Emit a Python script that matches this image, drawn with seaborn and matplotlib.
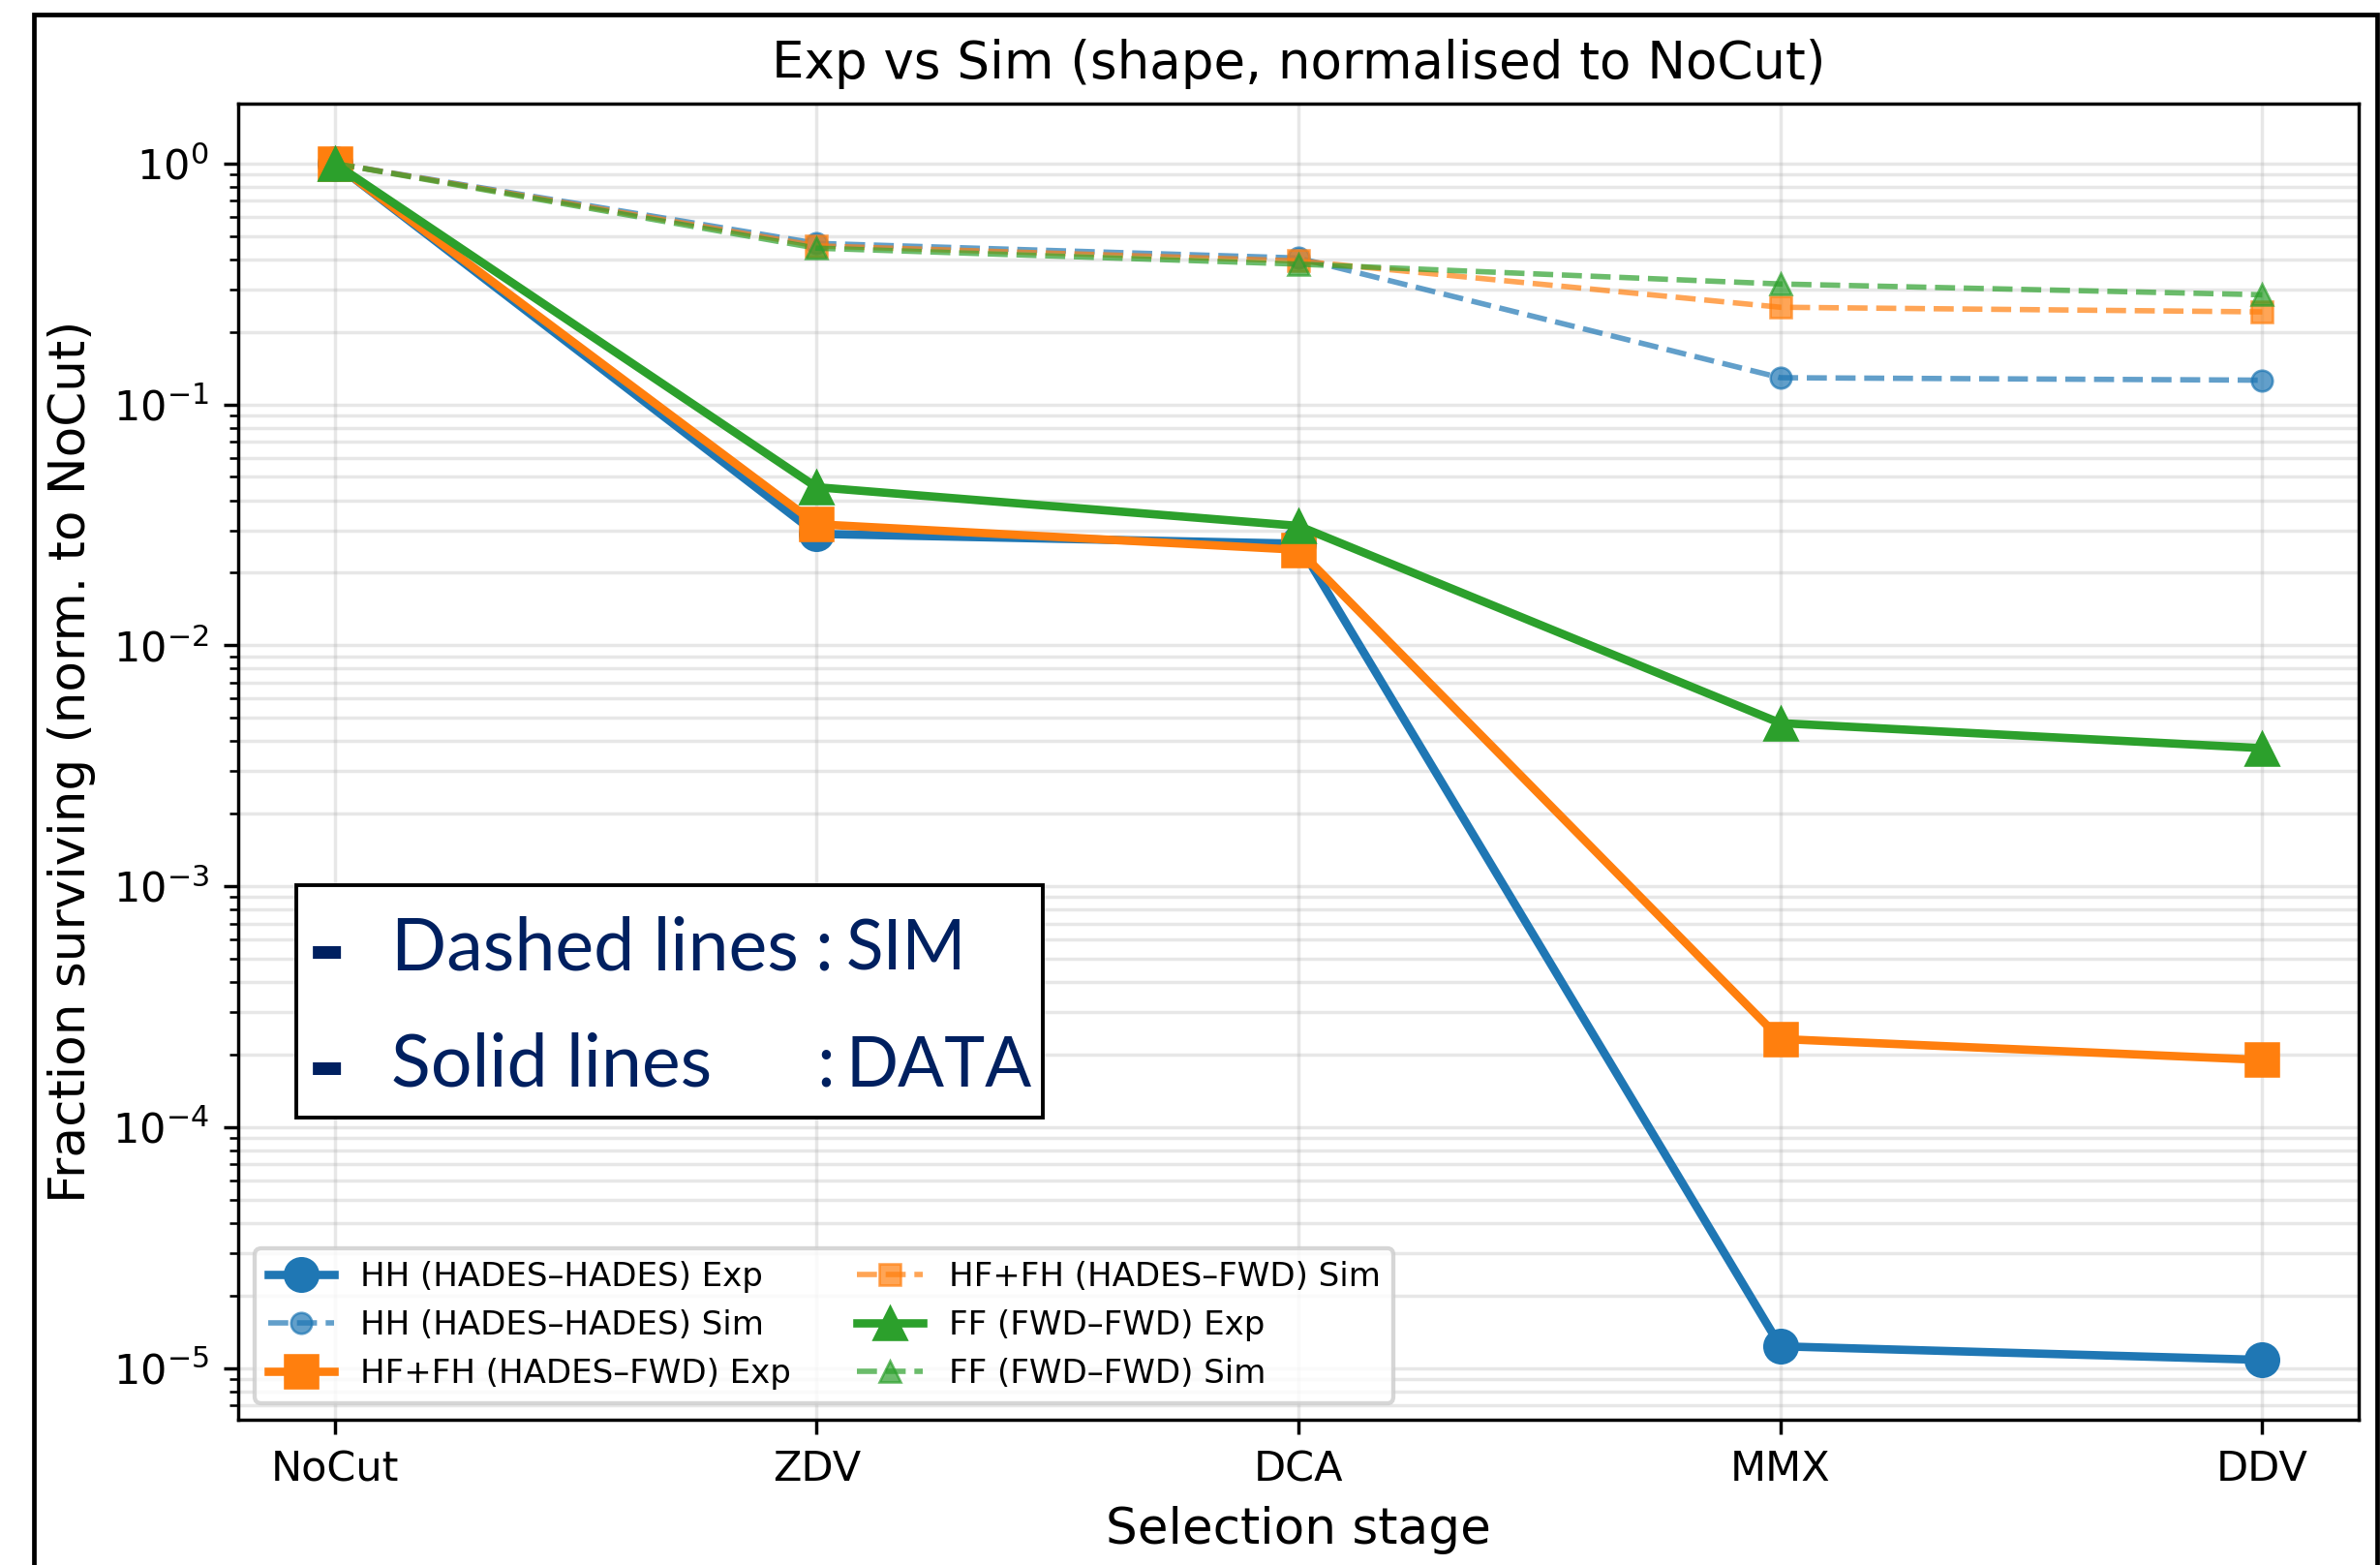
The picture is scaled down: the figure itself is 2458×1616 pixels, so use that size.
import matplotlib
matplotlib.use("Agg")
import matplotlib.pyplot as plt
from matplotlib.patches import Rectangle
import seaborn as sns

# Selection stages and surviving fractions (normalised to NoCut)
stages = ["NoCut", "ZDV", "DCA", "MMX", "DDV"]

hh_exp = [1.0, 0.0290, 0.0264, 1.23e-5, 1.08e-5]
hh_sim = [1.0, 0.466, 0.405, 0.129, 0.126]
hf_exp = [1.0, 0.0318, 0.0249, 2.32e-4, 1.90e-4]
hf_sim = [1.0, 0.455, 0.394, 0.253, 0.242]
ff_exp = [1.0, 0.0453, 0.0313, 4.75e-3, 3.74e-3]
ff_sim = [1.0, 0.445, 0.382, 0.316, 0.285]

series_labels = [
    "HH (HADES–HADES) Exp",
    "HH (HADES–HADES) Sim",
    "HF+FH (HADES–FWD) Exp",
    "HF+FH (HADES–FWD) Sim",
    "FF (FWD–FWD) Exp",
    "FF (FWD–FWD) Sim",
]

W, H, DPI = 2458, 1616, 310
fig = plt.figure(figsize=(W / DPI, H / DPI), dpi=DPI)
ax = fig.add_axes([246 / W, 1 - 1466 / H, (2436 - 246) / W, (1466 - 107) / H])

x = list(range(len(stages)))
colors = ["#1f77b4", "#ff7f0e", "#2ca02c"]
markers = ["o", "s", "^"]
exp_sets = [hh_exp, hf_exp, ff_exp]
sim_sets = [hh_sim, hf_sim, ff_sim]

for i in range(3):
    c, m = colors[i], markers[i]
    sns.lineplot(x=x, y=exp_sets[i], ax=ax, color=c, marker=m, markersize=8,
                 markeredgecolor=c, markeredgewidth=0.6, linewidth=2,
                 linestyle="-", label=series_labels[2 * i], errorbar=None,
                 sort=False)
    sns.lineplot(x=x, y=sim_sets[i], ax=ax, color=c, marker=m, markersize=5,
                 markeredgecolor=c, markeredgewidth=0.6, linewidth=1.3,
                 linestyle="--", alpha=0.7, label=series_labels[2 * i + 1],
                 errorbar=None, sort=False)

ax.set_yscale("log")
ax.set_xticks(x)
ax.set_xticklabels(stages)
ax.tick_params(labelsize=10)
ax.grid(True, which="both", alpha=0.3)
ax.set_xlabel("Selection stage", fontsize=12)
ax.set_ylabel("Fraction surviving (norm. to NoCut)", fontsize=12)
ax.set_title("Exp vs Sim (shape, normalised to NoCut)", fontsize=12.3)
ax.legend(loc="lower left", ncol=2, fontsize=7.9)

# Annotation box explaining line styles
fig.patches.append(Rectangle((306 / W, 1 - 1154 / H), (1077 - 306) / W, 240 / H,
                             transform=fig.transFigure, facecolor="white",
                             edgecolor="black", linewidth=0.9, zorder=5))
navy = "#002060"
font = ["Lato", "DejaVu Sans"]
rows = [(1002, "Dashed lines", ":", 841, "SIM", 874),
        (1122, "Solid lines", ":", 843, "DATA", 874)]
for yb, left, colon, xc, right, xr in rows:
    yf = 1 - yb / H
    fig.text(318 / W, 1 - (yb + 9) / H, "-", color=navy, fontsize=22,
             fontweight="bold", family="DejaVu Sans", va="baseline",
             ha="left", zorder=6)
    fig.text(404 / W, yf, left, color=navy, fontsize=17.5, family=font,
             va="baseline", ha="left", zorder=6)
    fig.text(xc / W, yf, colon, color=navy, fontsize=17.5, family=font,
             va="baseline", ha="left", zorder=6)
    fig.text(xr / W, yf, right, color=navy, fontsize=16.5, family=font,
             va="baseline", ha="left", zorder=6)

# Outer frame
fig.patches.append(Rectangle((35 / W, -0.05), (2455 - 35) / W, 1.05 - 15 / H,
                             transform=fig.transFigure, fill=False,
                             edgecolor="black", linewidth=1.1, zorder=10))

fig.savefig("out.png", dpi=DPI)
